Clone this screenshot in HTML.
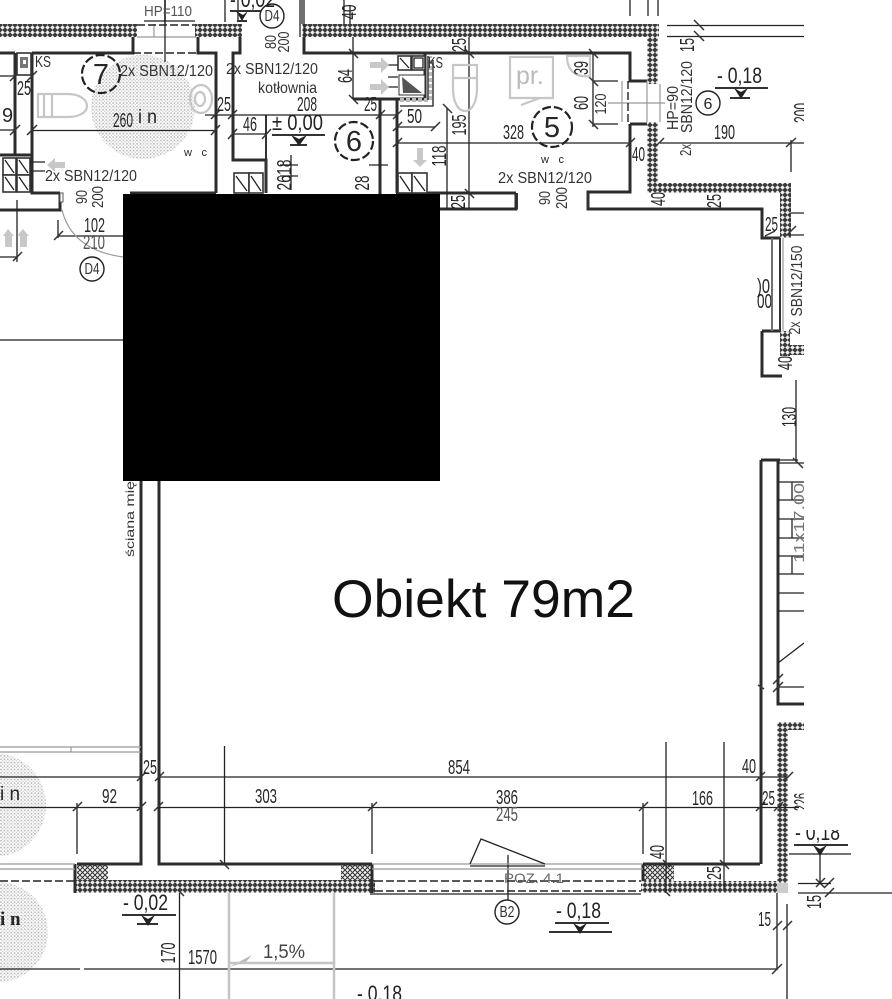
<!DOCTYPE html>
<html><head><meta charset="utf-8"><title>Obiekt 79m2</title>
<style>
html,body{margin:0;padding:0;background:#fff;width:892px;height:999px;overflow:hidden}
svg{display:block}
text{font-family:"Liberation Sans",sans-serif;fill:#262626;font-size:20px}
.s{font-size:16px;fill:#333}
.b{font-size:22px;fill:#222}
.g{fill:#777}
.w{fill:none;stroke:#2c2c2c;stroke-width:3}
.t{fill:none;stroke:#222;stroke-width:1.3}
.m{fill:none;stroke:#333;stroke-width:2}
.y{fill:none;stroke:#c4c4c4;stroke-width:2.5}
.l{fill:none;stroke:#999;stroke-width:1.2}
.c{fill:#fff;stroke:#222;stroke-width:1.4}
.d{fill:none;stroke:#222;stroke-width:2.2;stroke-dasharray:9 3}
</style></head><body>
<svg width="892" height="999" viewBox="0 0 892 999" xmlns="http://www.w3.org/2000/svg" shape-rendering="geometricPrecision">
<defs>
<pattern id="h" width="5" height="5" patternUnits="userSpaceOnUse"><rect width="5" height="5" fill="#3a3a3a"/><path d="M2.5 .3 4.8 2.5 2.5 4.7 .2 2.5Z" fill="#eee"/></pattern>
<pattern id="x" width="5" height="5" patternUnits="userSpaceOnUse"><rect width="5" height="5" fill="#f2f2f2"/><path d="M0 0 5 5M5 0 0 5" stroke="#333" stroke-width="1"/></pattern>
<pattern id="p" width="3.4" height="3.4" patternUnits="userSpaceOnUse"><rect width="3.4" height="3.4" fill="#fff"/><circle cx="1" cy="1" r=".9" fill="#b4b4b4"/><circle cx="2.7" cy="2.7" r=".7" fill="#c8c8c8"/></pattern>
</defs>
<rect width="892" height="999" fill="#fff"/>

<!-- stipple circles -->
<circle cx="143" cy="107" r="52" fill="url(#p)"/>
<circle cx="-6" cy="805" r="52" fill="url(#p)"/>
<circle cx="-2" cy="932" r="50" fill="url(#p)"/>

<!-- hatched walls -->
<g>
<rect x="0" y="24" width="137" height="13" fill="url(#h)"/>
<rect x="195" y="24" width="47" height="13" fill="url(#h)"/>
<rect x="302" y="24" width="357" height="13" fill="url(#h)"/>
<rect x="647" y="37" width="11" height="47" fill="url(#h)"/>
<rect x="647" y="122" width="11" height="71" fill="url(#h)"/>
<rect x="647" y="183" width="144" height="10" fill="url(#h)"/>
<rect x="780" y="183" width="11" height="55" fill="url(#h)"/>
<rect x="780" y="331" width="10" height="25" fill="url(#h)"/>
<rect x="780" y="345" width="24" height="10" fill="url(#h)"/>
<rect x="778" y="722" width="26" height="8" fill="url(#h)"/>
<rect x="777" y="722" width="11" height="171" fill="url(#h)"/>
<rect x="74" y="880" width="301" height="13" fill="url(#h)"/>
<rect x="641" y="881" width="147" height="12" fill="url(#h)"/>
<rect x="77" y="864" width="31" height="16" fill="url(#x)"/>
<rect x="341" y="864" width="31" height="16" fill="url(#x)"/>
<rect x="643" y="864" width="31" height="17" fill="url(#x)"/>
<rect x="777" y="883" width="11" height="10" fill="#ccc"/>
</g>

<!-- structural lines -->
<path class="w" d="M0 53H15M15 53V155M32 53V193H60M32 53H133V37M198 37V53H216V193M240 37V53H233V160H266V193M304 37V53H630V81H647M630 124H647M630 124V192H588V209H762V238H780M516 193H396M516 193V209H396M353 99H425V53M380 99V194M397 100V193M762 209V238M762 331H780M762 331V376H782M761 460H780M761 460V864M778 460V704H804M643 864H760M77 864H141V481M159 481V864H372M60 193V210H0M216 193H130M0 155H32M75 864V893M372 864V893M643 864V881"/>
<path class="m" d="M266 115V193M772 238V331M780 238V331M772 238H780"/>

<!-- thin dimension and construction lines -->
<path class="t" d="M205 115H397M32 130.5H216M233 134H266M397 143H630M660 143H804M397 127H435M0 130H15M0 76H15M58 236H123M58 220V238M0 257H18M17 200V262M0 340H123M353 37V99M469 37V209M447 108V209M593 53V127M593 81H618M593 124H618M667 25.5H804M667 36.5H804M791 140V172M791 213H804M791 235H804M0 777H141M158 777H788M0 807.5H141M158 807.5H799M77 803V854M372 803V854M643 803V854M224.5 746V864M666 742V893M724 742V890M179.5 893V999M0 969H80M84 969H777M777 893V970M787 904V999M508 855V900M796 380V462M630 0V16M648 0V16M658 0V16M291 155V190M280 165H298M280 176H298M369 165H388M238 0V20M225 0V22M302 0V24M165 0V24M300 0V37M304 0V37M350 5V24"/>
<path class="t" d="M344 0V24M165 0V22M778 463H804M778 482H804M778 500H804M778 519H804M778 538H804M778 556H804M778 574H804M778 593H804M778 611H804M778 687H804M778 663L804 643M778 460H798M792 482V500M792 519V538M792 556V574"/>

<!-- ticks -->
<path class="m" style="stroke-width:1.5" d="M15 76m-5 5l10-10M32 76m-5 5l10-10M15 130m-5 5l10-10M32 130m-5 5l10-10M215 130m-4 5l9-10M232 134m-4 5l9-10M266 134m-4 5l9-10M215 115m-4 4l9-9M232 115m-4 4l9-9M380 115m-4 4l9-9M397 115m-4 4l9-9M397 127m-4 4l9-9M435 127m-4 4l9-9M397 143m-4 4l9-9M353 53m-4-4l9 9M353 99m-4-4l9 9M593 53m-4-4l9 9M593 81m-4-4l9 9M593 124m-4-4l9 9M469 53m-4-4l9 9M469 193m-4-4l9 9M447 108m-4-4l9 9M630 143m-4 4l9-9M659 143m-4 4l9-9M791 143m-5 4l10-9M699 25m-5-5l10 10M699 36m-5-5l10 10M58 236m-4 4l9-9M17 257m-4 4l9-9M77 807m-4 4l9-9M141 807m-4 4l9-9M158 807m-4 4l9-9M372 807m-4 4l9-9M141 777m-4 4l9-9M159 777m-4 4l9-9M643 807m-4 4l9-9M760 807m-4 4l9-9M778 807m-4 4l9-9M760 777m-4 4l9-9M788 777m-4 4l9-9M224 864m-4-4l9 9M180 893m-2-3l6 6M666 864m-3-4l7 7M666 893m-3-4l7 7M724 864m-4-4l9 9M777 926m-4 4l9-9M787 926m-4 4l9-9M777 969m-5 5l10-10M820 883m-4-4l9 9M820 883m-4 4l9-9M829 883m-4 4l9-9M829 893m-4 4l9-9M798 463m-5-5l10 10M778 679m-5 5l10-10M778 687m-5 5l10-10M761 687m-3-2l6 4M791 231m-4 4l9-9M770 236m-5 0l10-5"/>

<!-- windows and doors -->
<path class="l" d="M372 864H643M372 869H643M0 864H75M0 869H75M0 747H141M0 752H141M622 81V122M647 81V122M660 84V122M608 103H665M154 24V37M137 37H196M772 238V331M783 238V331M470 864H545M71 747V752"/>
<path class="d" style="stroke-width:1.4;stroke-dasharray:8 3" d="M0 881H74M375 881H641M375 891H641M137 25H195M133 53H198M628 81V122"/>
<path class="t" d="M470 864L481 839L545 864M470 866H545M370 894H641M144 21H195M165 0V62"/>
<path class="l" d="M62 210Q72 250 123 257"/>
<rect x="60" y="193" width="3" height="9" fill="#fff" stroke="#555"/>
<path d="M516 193H518V209H516ZM587 193H589V209H587Z" fill="#333"/>

<!-- kitchen/ventilation boxes -->
<g style="fill:#fff;stroke:#333;stroke-width:1.6">
<rect x="3" y="158" width="13" height="17"/><rect x="17" y="158" width="13" height="17"/>
<rect x="3" y="175" width="13" height="17"/><rect x="17" y="175" width="13" height="17"/>
<rect x="234" y="173" width="15" height="20"/><rect x="249" y="173" width="14" height="20"/>
<rect x="398" y="173" width="14" height="20"/><rect x="412" y="173" width="15" height="20"/>
<rect x="398" y="56" width="13" height="14"/><rect x="412" y="56" width="13" height="14"/>
<rect x="17" y="53" width="14" height="22"/>
</g>
<path class="t" d="M5 160L14 173M19 160L28 173M5 177L14 190M19 177L28 190M236 176L247 191M251 176L261 191M400 176L410 191M414 176L425 191M400 58L409 68M414 58H423V68H414Z"/>
<rect x="20" y="57" width="8" height="11" fill="#777"/>
<rect x="23" y="60" width="3" height="4" fill="#fff"/>
<rect x="399" y="75" width="26" height="20" fill="#fff" stroke="#333"/>
<path d="M402 77L422 93L403 93Z" fill="#555"/>
<path d="M400 100H430V56" fill="none" stroke="#bbb" stroke-width="4" stroke-dasharray="4 2"/>
<path d="M428 56V100M400 106H433V60" fill="none" stroke="#444" stroke-width="1.6"/>
<path class="t" d="M30 162H45M30 171H45M388 65H398M388 77H398M388 87H398"/>

<!-- grey fixtures -->
<g fill="none" stroke="#c6c6c6" stroke-width="2.2">
<path d="M38 94H68C80 94 87 100 87 106S80 117 68 117H38ZM44 94V117M52 94V117"/>
<ellipse cx="201" cy="99" rx="11" ry="14"/><ellipse cx="200" cy="99" rx="5" ry="7"/>
<path d="M453 65H477V88C477 102 472 111 465 111S453 102 453 88ZM453 78H477"/>
<path d="M510 57H553V98H510ZM521 105L540 98"/>
<path d="M567 56H590V76C575 78 567 70 567 56Z"/>
</g>
<g fill="#c8c8c8">
<path d="M370 62H381V57L389 65L381 73V68H370ZM370 84H381V79L389 87L381 95V90H370Z"/>
<path d="M65 162H55V158L47 165L55 172V168H65Z"/>
<path d="M5 247V236H3L8 229L14 236H12V247ZM20 247V236H17L23 229L29 236H27V247Z"/>
<path d="M417 148V160H413L420 167L427 160H423V148Z"/>
</g>
<path d="M246 962L229 967L252 955Z" fill="#bbb"/>
<path class="y" d="M229 893V999M334 893V999M230 963H334"/>

<!-- level markers -->
<path class="m" d="M230 11H267M237 21H247"/>
<path d="M236 11L242 21L248 11L243 15Z" fill="#222"/>
<path class="m" d="M272 135H325M290 145H307"/>
<path d="M291 135L299 146L307 135L299 139Z" fill="#222"/>
<path class="m" d="M715 88H768M730 98H750"/>
<path d="M734 88L741 99L748 88L741 92Z" fill="#222"/>
<path class="m" d="M122 915H176M137 924H158"/>
<path d="M141 915L148 926L155 915L148 919Z" fill="#222"/>
<path class="m" d="M555 923H609M549 932H612"/>
<path d="M573 923L580 934L587 923L580 927Z" fill="#222"/>

<!-- circles -->
<circle cx="272" cy="16" r="12" class="c"/>
<circle cx="92" cy="269" r="12" class="c"/>
<circle cx="708" cy="103" r="12" class="c"/>
<circle cx="507" cy="912" r="12" class="c"/>
<circle cx="101" cy="74" r="19" class="d"/>
<circle cx="354" cy="141" r="19" class="d"/>
<circle cx="552" cy="127" r="20" class="d"/>

<!-- labels -->
<text x="144" y="16" textLength="48" lengthAdjust="spacingAndGlyphs" style="font-size:15px;fill:#555">HP=110</text>
<text x="230" y="7" textLength="45" lengthAdjust="spacingAndGlyphs" class="b">- 0,02</text>
<text x="272" y="21" text-anchor="middle" textLength="15" lengthAdjust="spacingAndGlyphs" class="s">D4</text>
<text x="92" y="274" text-anchor="middle" textLength="15" lengthAdjust="spacingAndGlyphs" class="s">D4</text>
<text x="708" y="109" text-anchor="middle" style="font-size:16px">6</text>
<text x="507" y="917" text-anchor="middle" textLength="15" lengthAdjust="spacingAndGlyphs" class="s">B2</text>
<text x="101" y="84" text-anchor="middle" style="font-size:29px">7</text>
<text x="354" y="151" text-anchor="middle" style="font-size:29px">6</text>
<text x="552" y="137" text-anchor="middle" style="font-size:29px">5</text>
<text x="35" y="67" textLength="16" lengthAdjust="spacingAndGlyphs" class="s">KS</text>
<text x="428" y="68" textLength="15" lengthAdjust="spacingAndGlyphs" class="s">KS</text>
<text x="120" y="76" textLength="93" lengthAdjust="spacingAndGlyphs" class="s">2x SBN12/120</text>
<text x="226" y="74" textLength="92" lengthAdjust="spacingAndGlyphs" class="s">2x SBN12/120</text>
<text x="258" y="93" textLength="59" lengthAdjust="spacingAndGlyphs" class="s">kotłownia</text>
<text x="45" y="181" textLength="92" lengthAdjust="spacingAndGlyphs" class="s">2x SBN12/120</text>
<text x="498" y="183" textLength="94" lengthAdjust="spacingAndGlyphs" class="s">2x SBN12/120</text>
<text x="297" y="111" textLength="20" lengthAdjust="spacingAndGlyphs">208</text>
<text x="217" y="111" textLength="14" lengthAdjust="spacingAndGlyphs">25</text>
<text x="364" y="111" textLength="13" lengthAdjust="spacingAndGlyphs">25</text>
<text x="17" y="95" textLength="14" lengthAdjust="spacingAndGlyphs">25</text>
<text x="2" y="122">9</text>
<text x="113" y="127" textLength="20" lengthAdjust="spacingAndGlyphs">260</text>
<text x="138" y="123" textLength="19" lengthAdjust="spacingAndGlyphs" style="font-size:19px">i n</text>
<text x="184" y="156" textLength="23" style="font-size:11px">w c</text>
<text x="541" y="163" textLength="23" style="font-size:11px">w c</text>
<text x="243" y="131" textLength="14" lengthAdjust="spacingAndGlyphs">46</text>
<text x="272" y="130" textLength="51" lengthAdjust="spacingAndGlyphs" class="b">± 0,00</text>
<text x="407" y="123" textLength="15" lengthAdjust="spacingAndGlyphs">50</text>
<text x="84" y="232" textLength="21" lengthAdjust="spacingAndGlyphs">102</text>
<text x="83" y="249" textLength="22" lengthAdjust="spacingAndGlyphs" style="fill:#555">210</text>
<text x="503" y="139" textLength="21" lengthAdjust="spacingAndGlyphs">328</text>
<text x="632" y="161" textLength="13" lengthAdjust="spacingAndGlyphs">40</text>
<text x="765" y="231" textLength="13" lengthAdjust="spacingAndGlyphs">25</text>
<text x="714" y="139" textLength="21" lengthAdjust="spacingAndGlyphs">190</text>
<text x="717" y="83" textLength="45" lengthAdjust="spacingAndGlyphs" class="b">- 0,18</text>
<text x="757" y="293" textLength="13" lengthAdjust="spacingAndGlyphs">)0</text>
<text x="757" y="308" textLength="15" lengthAdjust="spacingAndGlyphs">00</text>
<text x="516" y="84" style="font-size:25px;fill:#bbb">pr.</text>

<g text-anchor="middle">
<text transform="translate(356,12) rotate(-90)" textLength="15" lengthAdjust="spacingAndGlyphs">40</text>
<text transform="translate(352,76) rotate(-90)" textLength="14" lengthAdjust="spacingAndGlyphs">64</text>
<text transform="translate(276,42) rotate(-90)" textLength="14" lengthAdjust="spacingAndGlyphs" class="s">80</text>
<text transform="translate(289,42) rotate(-90)" textLength="21" lengthAdjust="spacingAndGlyphs" class="s">200</text>
<text transform="translate(87,197) rotate(-90)" textLength="14" lengthAdjust="spacingAndGlyphs" class="s">90</text>
<text transform="translate(103,197) rotate(-90)" textLength="22" lengthAdjust="spacingAndGlyphs" class="s">200</text>
<text transform="translate(291,175) rotate(-90)" textLength="31" lengthAdjust="spacingAndGlyphs">2618</text>
<text transform="translate(369,183) rotate(-90)" textLength="15" lengthAdjust="spacingAndGlyphs">28</text>
<text transform="translate(446,156) rotate(-90)" textLength="21" lengthAdjust="spacingAndGlyphs">118</text>
<text transform="translate(466,45) rotate(-90)" textLength="14" lengthAdjust="spacingAndGlyphs">25</text>
<text transform="translate(466,125) rotate(-90)" textLength="21" lengthAdjust="spacingAndGlyphs">195</text>
<text transform="translate(465,202) rotate(-90)" textLength="14" lengthAdjust="spacingAndGlyphs">25</text>
<text transform="translate(588,68) rotate(-90)" textLength="14" lengthAdjust="spacingAndGlyphs">39</text>
<text transform="translate(588,103) rotate(-90)" textLength="14" lengthAdjust="spacingAndGlyphs">60</text>
<text transform="translate(606,104) rotate(-90)" textLength="21" lengthAdjust="spacingAndGlyphs" class="s">120</text>
<text transform="translate(550,198) rotate(-90)" textLength="14" lengthAdjust="spacingAndGlyphs" class="s">90</text>
<text transform="translate(567,198) rotate(-90)" textLength="22" lengthAdjust="spacingAndGlyphs" class="s">200</text>
<text transform="translate(665,199) rotate(-90)" textLength="14" lengthAdjust="spacingAndGlyphs">40</text>
<text transform="translate(721,201) rotate(-90)" textLength="14" lengthAdjust="spacingAndGlyphs">25</text>
<text transform="translate(694,45) rotate(-90)" textLength="14" lengthAdjust="spacingAndGlyphs">15</text>
<text transform="translate(678,108) rotate(-90)" textLength="44" lengthAdjust="spacingAndGlyphs" class="s">HP=90</text>
<text transform="translate(692,97) rotate(-90)" textLength="72" lengthAdjust="spacingAndGlyphs" class="s">SBN12/120</text>
<text transform="translate(691,150) rotate(-90)" textLength="12" lengthAdjust="spacingAndGlyphs" class="s">2x</text>
<text transform="translate(802,281) rotate(-90)" textLength="71" lengthAdjust="spacingAndGlyphs" class="s">SBN12/150</text>
<text transform="translate(800,328) rotate(-90)" textLength="13" lengthAdjust="spacingAndGlyphs" class="s">2x</text>
<text transform="translate(792,363) rotate(-90)" textLength="14" lengthAdjust="spacingAndGlyphs">40</text>
<text transform="translate(796,417) rotate(-90)" textLength="20" lengthAdjust="spacingAndGlyphs">130</text>
<text transform="translate(808,113) rotate(-90)" textLength="20" lengthAdjust="spacingAndGlyphs">200</text>
<text transform="translate(808,802) rotate(-90)" textLength="18" lengthAdjust="spacingAndGlyphs">226</text>
<text transform="translate(804,523) rotate(-90)" textLength="80" lengthAdjust="spacingAndGlyphs" style="font-size:15px;fill:#777">11x17,00</text>
<text transform="translate(134,519) rotate(-90)" textLength="76" lengthAdjust="spacingAndGlyphs" style="font-size:12px;fill:#333">ściana mię</text>
<text transform="translate(664,852) rotate(-90)" textLength="14" lengthAdjust="spacingAndGlyphs">40</text>
<text transform="translate(721,873) rotate(-90)" textLength="14" lengthAdjust="spacingAndGlyphs">25</text>
<text transform="translate(175,953) rotate(-90)" textLength="21" lengthAdjust="spacingAndGlyphs">170</text>
</g>

<text x="143" y="774" textLength="14" lengthAdjust="spacingAndGlyphs">25</text>
<text x="102" y="803" textLength="15" lengthAdjust="spacingAndGlyphs">92</text>
<text x="255" y="803" textLength="22" lengthAdjust="spacingAndGlyphs">303</text>
<text x="448" y="774" textLength="22" lengthAdjust="spacingAndGlyphs">854</text>
<text x="496" y="804" textLength="22" lengthAdjust="spacingAndGlyphs">386</text>
<text x="496" y="821" textLength="22" lengthAdjust="spacingAndGlyphs" style="fill:#555">245</text>
<text x="692" y="805" textLength="21" lengthAdjust="spacingAndGlyphs">166</text>
<text x="742" y="773" textLength="14" lengthAdjust="spacingAndGlyphs">40</text>
<text x="762" y="805" textLength="13" lengthAdjust="spacingAndGlyphs">25</text>
<text x="758" y="926" textLength="13" lengthAdjust="spacingAndGlyphs">15</text>
<text x="188" y="964" textLength="29" lengthAdjust="spacingAndGlyphs">1570</text>
<text x="263" y="958" textLength="42" lengthAdjust="spacingAndGlyphs" style="font-size:19px;fill:#444">1,5%</text>
<text x="123" y="910" textLength="45" lengthAdjust="spacingAndGlyphs" class="b">- 0,02</text>
<text x="556" y="918" textLength="45" lengthAdjust="spacingAndGlyphs" class="b">- 0,18</text>
<text x="357" y="1001" textLength="45" lengthAdjust="spacingAndGlyphs" class="b">- 0,18</text>
<text x="504" y="883" textLength="60" lengthAdjust="spacingAndGlyphs" style="font-size:14px;fill:#666">POZ. 4.1</text>
<text x="0" y="800" style="font-size:19px">i n</text>
<text x="0" y="925" style="font-size:19px;font-family:'Liberation Serif',serif;font-weight:bold">i n</text>

<text x="332" y="617" textLength="303" lengthAdjust="spacingAndGlyphs" style="font-size:53px;fill:#111">Obiekt 79m2</text>

<!-- clip right margin -->
<rect x="804" y="0" width="88" height="825" fill="#fff"/>

<!-- lower right details -->
<text x="795" y="840" textLength="45" lengthAdjust="spacingAndGlyphs" class="b">- 0,18</text>
<rect x="790" y="815" width="60" height="15" fill="#fff"/>
<path class="m" d="M794 845H848"/>
<path class="t" d="M789 854H851M798 883.5H831M798 893H892M820 854V883"/>
<path d="M813 845L820 856L827 845L820 849Z" fill="#222"/>
<text transform="translate(821,902) rotate(-90)" text-anchor="middle" textLength="14" lengthAdjust="spacingAndGlyphs">15</text>

<!-- redaction block -->
<rect x="123" y="194" width="317" height="287" fill="#000"/>
</svg>
</body></html>
